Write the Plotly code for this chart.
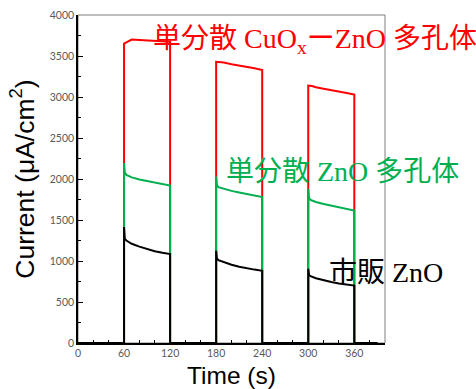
import plotly.graph_objects as go

# ---- data ----
t_red = [0, 60, 60, 62, 65, 70, 80, 90, 100, 110, 120, 120,
         180, 180, 185, 190, 200, 210, 220, 230, 240, 240,
         300, 300, 305, 310, 320, 330, 340, 350, 360, 360, 390]
i_red = [0, 0, 3650, 3660, 3680, 3700, 3695, 3690, 3680, 3680, 3675, 0,
         0, 3430, 3425, 3420, 3400, 3385, 3370, 3350, 3330, 0,
         0, 3140, 3135, 3120, 3100, 3085, 3070, 3050, 3030, 0, 0]

t_grn = [0, 60, 60, 61, 63, 70, 80, 90, 100, 110, 120, 120,
         180, 180, 181, 183, 190, 200, 210, 220, 230, 240, 240,
         300, 300, 301, 303, 310, 320, 330, 340, 350, 360, 360, 390]
i_grn = [0, 0, 2195, 2080, 2050, 2020, 1995, 1975, 1955, 1940, 1920, 0,
         0, 2030, 1930, 1900, 1880, 1855, 1835, 1815, 1795, 1780, 0,
         0, 1880, 1770, 1745, 1720, 1695, 1675, 1655, 1635, 1615, 0, 0]

t_blk = t_grn
i_blk = [0, 0, 1415, 1270, 1250, 1210, 1175, 1145, 1120, 1100, 1085, 0,
         0, 1125, 1030, 1010, 985, 955, 930, 910, 895, 880, 0,
         0, 905, 830, 815, 790, 765, 745, 725, 710, 700, 0, 0]

x_ticks = [0, 60, 120, 180, 240, 300, 360]
y_ticks = [0, 500, 1000, 1500, 2000, 2500, 3000, 3500, 4000]

label_red = "単分散 CuO<sub>x</sub>ーZnO 多孔体"
label_grn = "単分散 ZnO 多孔体"
label_blk = "市販 ZnO"

RED = "#FF0000"
GRN = "#00B050"
BLK = "#000000"

fig = go.Figure()
for t, v, c in [(t_red, i_red, RED), (t_grn, i_grn, GRN), (t_blk, i_blk, BLK)]:
    fig.add_trace(go.Scatter(x=t, y=v, mode="lines",
                             line=dict(color=c, width=2), showlegend=False))

tickfont = dict(family="Lato, Liberation Sans, sans-serif", size=10.5, color="#595959")
fig.update_xaxes(range=[0, 400], tickvals=x_ticks, ticks="inside", ticklen=5,
                 tickcolor="#000", showline=True, linecolor="#000", linewidth=1.5,
                 showgrid=False, zeroline=False, tickfont=tickfont, automargin=False,
                 minor=dict(dtick=20, ticks="inside", ticklen=3, tickcolor="#000"),
                 title=dict(text="Time (s)", standoff=11,
                            font=dict(family="Liberation Sans, Arial", size=24.5, color="#000")))
fig.update_yaxes(range=[0, 4000], tickvals=y_ticks, ticks="inside", ticklen=5,
                 tickcolor="#000", showline=True, linecolor="#000", linewidth=1.5,
                 showgrid=False, zeroline=False, tickfont=tickfont, automargin=False,
                 minor=dict(dtick=250, ticks="inside", ticklen=3, tickcolor="#000"),
                 title=dict(text="Current (μA/cm<sup>2</sup>)", standoff=8,
                            font=dict(family="Liberation Sans, Arial", size=26.5, color="#000")))

fig.add_shape(type="rect", xref="paper", yref="paper", x0=0, x1=1, y0=0, y1=1,
              line=dict(color="#7f7f7f", width=1), layer="below")

afont = "Liberation Serif, Noto Sans CJK JP, serif"
for txt, c, x, y in [(label_red, RED, 151, 41), (label_grn, GRN, 224, 171), (label_blk, BLK, 327, 272)]:
    fig.add_annotation(text=txt, xref="paper", yref="paper",
                       x=(x - 78) / 307, y=(343 - y) / 328, xanchor="left", yanchor="middle",
                       showarrow=False, font=dict(family=afont, size=28, color=c))

fig.update_layout(width=476, height=389, margin=dict(l=78, r=91, t=15, b=46),
                  plot_bgcolor="white", paper_bgcolor="white")
fig.write_html("out.html", config={"displayModeBar": False},
               post_script="document.body.style.margin='0px';")
